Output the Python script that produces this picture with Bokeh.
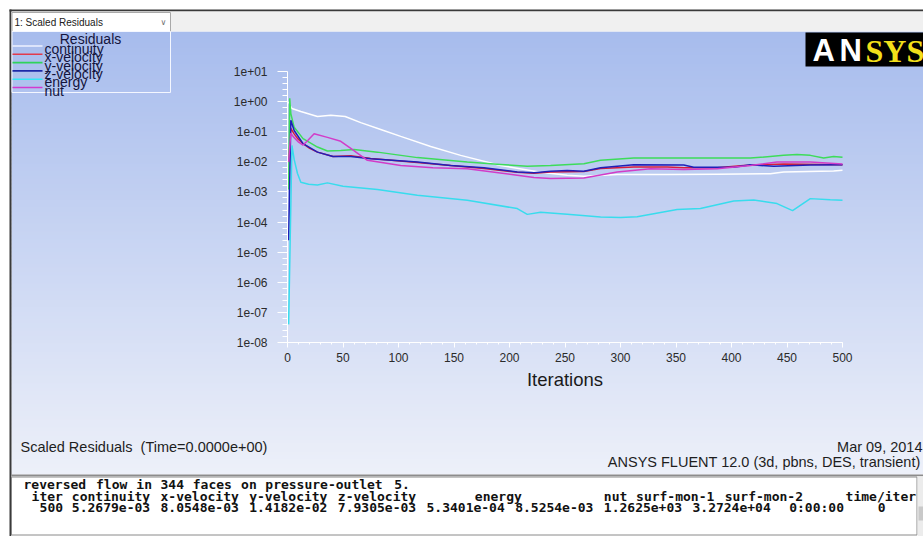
import re
from bokeh.plotting import figure
from bokeh.models import Range1d, FixedTicker, LinearAxis, LogAxis, LogScale
from bokeh.core.properties import value
from bokeh.embed import file_html
from bokeh.resources import INLINE

# ---------------- data ----------------
cont_iter = [1, 3, 4, 12, 27, 39, 52, 66, 84, 102, 129, 156, 192, 228, 252, 267, 297, 342, 387, 435, 447, 492, 500]
cont_res = [1.0, 0.66, 0.59, 0.47, 0.32, 0.35, 0.32, 0.20, 0.119, 0.070, 0.0325, 0.0164, 0.0076, 0.0045,
            0.0036, 0.0033, 0.0038, 0.0038, 0.0039, 0.0040, 0.0046, 0.0050, 0.00527]

xvel_iter = [1, 3, 6, 9, 14, 20, 27, 41, 57, 75, 117, 147, 177, 207, 222, 237, 267, 282, 312, 342, 357, 387, 411, 447, 500]
xvel_res = [1.0e-2, 0.13, 0.085, 0.06, 0.04, 0.028, 0.021, 0.015, 0.016, 0.013, 0.0095, 0.0076, 0.0060, 0.0045,
            0.0042, 0.0046, 0.0048, 0.0060, 0.0068, 0.0068, 0.0064, 0.0064, 0.0076, 0.0085, 0.00805]

yvel_iter = [1, 2, 3, 6, 14, 27, 36, 48, 60, 81, 117, 162, 192, 216, 237, 267, 282, 312, 342, 417, 447, 459, 471, 483, 492, 500]
yvel_res = [1.2e-3, 1.3, 0.4, 0.14, 0.059, 0.031, 0.023, 0.024, 0.0257, 0.021, 0.0138, 0.0098, 0.0082, 0.0071,
            0.0076, 0.0087, 0.0112, 0.0133, 0.0133, 0.0133, 0.0164, 0.0176, 0.0164, 0.0133, 0.0150, 0.01418]

zvel_iter = [1, 3, 6, 14, 27, 41, 57, 75, 117, 147, 177, 207, 222, 237, 252, 267, 282, 312, 357, 366, 402, 417, 438, 471, 500]
zvel_res = [2.5e-5, 0.24, 0.11, 0.040, 0.021, 0.015, 0.015, 0.0126, 0.0098, 0.0076, 0.0064, 0.0046, 0.0043,
            0.0049, 0.0052, 0.0049, 0.0064, 0.0080, 0.0078, 0.0066, 0.0066, 0.0080, 0.0071, 0.0078, 0.00793]

energy_iter = [1, 4, 6, 9, 12, 19, 27, 36, 50, 81, 117, 162, 207, 216, 228, 252, 282, 300, 315, 351, 372, 402,
               420, 441, 455, 471, 489, 500]
energy_res = [4e-8, 0.035, 0.012, 0.0041, 0.0021, 0.0018, 0.0017, 0.0020, 0.00155, 0.0012, 0.00077, 0.00053,
              0.00028, 0.00018, 0.00021, 0.00018, 0.000148, 0.000142, 0.00015, 0.00026, 0.00028, 0.00050,
              0.00054, 0.00041, 0.00024, 0.00060, 0.00055, 0.000534]

nut_iter = [1, 3, 5, 10, 14, 18, 24, 36, 48, 57, 72, 102, 131, 162, 207, 222, 237, 267, 297, 327, 357, 387, 417,
            441, 471, 500]
nut_res = [1.0e-2, 0.09, 0.07, 0.045, 0.036, 0.05, 0.085, 0.065, 0.048, 0.028, 0.0112, 0.0076, 0.0064, 0.0059,
           0.0036, 0.0030, 0.0028, 0.0029, 0.0046, 0.0059, 0.0056, 0.0059, 0.0076, 0.0098, 0.0098, 0.00853]

series_names = ["continuity", "x-velocity", "y-velocity", "z-velocity", "energy", "nut"]

x_ticks = [0, 50, 100, 150, 200, 250, 300, 350, 400, 450, 500]
y_ticks = [1e-08, 1e-07, 1e-06, 1e-05, 1e-04, 1e-03, 1e-02, 1e-01, 1e+00, 1e+01]
y_tick_labels = ["1e-08", "1e-07", "1e-06", "1e-05", "1e-04", "1e-03", "1e-02", "1e-01", "1e+00", "1e+01"]

console_lines = [
    "reversed flow in 344 faces on pressure-outlet 5.",
    " iter continuity x-velocity y-velocity z-velocity       energy          nut surf-mon-1 surf-mon-2     time/iter",
    "  500 5.2679e-03 8.0548e-03 1.4182e-02 7.9305e-03 5.3401e-04 8.5254e-03 1.2625e+03 3.2724e+04  0:00:00    0",
]

# ---------------- layout ----------------
W, H = 923, 536

# data area of the residual plot (pixels)
AX_L, AX_R = 287, 842
AX_T, AX_B = 71, 342
px_it = (AX_R - AX_L) / 500.0
dec_px = (AX_B - AX_T) / 9.0
it_range = Range1d(-AX_L / px_it, (W - AX_L) / px_it)
res_range = Range1d(10 ** (-8 - (H - AX_B) / dec_px), 10 ** (1 + AX_T / dec_px))

p = figure(width=W, height=H, x_range=Range1d(0, W), y_range=Range1d(H, 0),
           x_axis_type=None, y_axis_type=None, output_backend="svg", toolbar_location=None, tools="",
           min_border=0, extra_x_ranges={"it": it_range}, extra_y_ranges={"res": res_range},
           extra_y_scales={"res": LogScale()})
p.border_fill_color = "white"
p.background_fill_color = "white"
p.outline_line_color = None
p.grid.visible = False


def box(l, r, t, b, fill=None, line=None, lw=1):
    p.quad(left=l, right=r, top=t, bottom=b,
           fill_color=fill if fill else "white", fill_alpha=1 if fill else 0,
           line_color=line if line else "black", line_alpha=1 if line else 0, line_width=lw)


def label(x, y, text, size="14px", color="#1e1e1e", font="Liberation Sans", align="left",
          baseline="middle", style="normal"):
    xs = x if isinstance(x, list) else [x]
    ys = y if isinstance(y, list) else [y]
    ts = text if isinstance(text, list) else [text]
    p.text(x=xs, y=ys, text=ts, text_font=value(font),
           text_font_size=size, text_color=color, text_align=align, text_baseline=baseline,
           text_font_style=style)


# background gradient of the graphics window
c0 = (167, 188, 237)
c1 = (237, 240, 249)
g_top, g_bot, step = 31, 474, 4
n = (g_bot - g_top) // step + 1
lefts, rights, tops, bots, cols = [], [], [], [], []
for i in range(n):
    t = i / (n - 1)
    cols.append("#%02x%02x%02x" % tuple(round(a + (b - a) * t) for a, b in zip(c0, c1)))
    y0 = g_top + i * step
    lefts.append(11); rights.append(W + 2)
    tops.append(y0); bots.append(min(y0 + step + 1, g_bot))
p.quad(left=lefts, right=rights, top=tops, bottom=bots, fill_color=cols, line_alpha=0)

# window frame, selector bar
box(9, W + 2, 9, 11, fill="#3a3a3a")
box(9, 11, 9, H + 2, fill="#3a3a3a")
box(11, W + 2, 11, 31, fill="#f0f0f0")
box(11.5, 170, 12, 31, fill="white", line="#a9a9a9")
label(14, 22, "1: Scaled Residuals", size="10px", color="#202020")
label(163, 22, "\u2228", size="8px", color="#707070", font="DejaVu Sans", align="center")

# legend box
box(11.5, 170, 31, 92, line="#f4f7ff")
label(90, 38.5, "Residuals", size="14px", color="#14143c", align="center")
legend_colors = ["#eef2ff", "#e23a4c", "#2fd35a", "#1c2aa8", "#36e6f5", "#d23ad0"]
for i, (nm, col) in enumerate(zip(series_names, legend_colors)):
    ly = 45.5 + 8.3 * i
    p.segment(x0=12, x1=42, y0=ly, y1=ly, line_color=col, line_width=1.6)
    label(44, ly + 3, nm, size="14px", color="#14143c", baseline="alphabetic")

# ANSYS logo
box(805, W + 2, 32, 66, fill="#000000")
label(812, 50, "A", size="31px", color="white", style="bold")
label(839, 50, "N", size="31px", color="white", style="bold")
label(865, 50, "SYS", size="32px", color="#f2df1a", font="Liberation Serif", style="bold")

# footer texts in the graphics window
label(20, 446, "Scaled Residuals \u00a0(Time=0.0000e+00)", size="14.5px")
label(922, 446, "Mar 09, 2014", size="14.5px", align="right")
label(920, 461, "ANSYS FLUENT 12.0 (3d, pbns, DES, transient)", size="14.5px", align="right")

# console pane
box(11, W + 2, 474, 476, fill="#8c8c8c")
box(11, W + 2, 476, H + 2, fill="white")
box(11, 916.5, 476.5, 534.5, line="#8a8a8a")
box(917, W + 2, 476, H + 2, fill="#ececec")
box(918, W + 2, 506, 520, fill="#c9c9c9")
char_w = 8.06
tx, ty, tt = [], [], []
for j, line in enumerate(console_lines):
    for m in re.finditer(r"\S+", line):
        tx.append(23 + m.start() * char_w)
        ty.append(484 + 11.6 * j)
        tt.append(m.group())
label(tx, ty, tt, size="13px", color="#111111", font="DejaVu Sans Mono", style="bold")

# ---------------- residual curves ----------------
curve_colors = ["#ffffff", "#d81b3c", "#3ddc5a", "#2020b8", "#38dced", "#d23cc8"]
curves = [(cont_iter, cont_res), (xvel_iter, xvel_res), (yvel_iter, yvel_res),
          (zvel_iter, zvel_res), (energy_iter, energy_res), (nut_iter, nut_res)]
for (xs, ys), col in zip(curves, curve_colors):
    p.line(xs, ys, line_color=col, line_width=1.5, x_range_name="it", y_range_name="res")

# ---------------- axes (drawn at the data origin) ----------------
xa = LinearAxis(x_range_name="it", y_range_name="res", fixed_location=1e-8, bounds=(0, 500),
                ticker=FixedTicker(ticks=x_ticks, minor_ticks=list(range(0, 501, 10))))
xa.axis_line_color = "white"
xa.major_tick_line_color = "white"
xa.minor_tick_line_color = "white"
xa.major_tick_out = 5
xa.major_tick_in = 0
xa.minor_tick_out = 2
xa.minor_tick_in = 0
xa.major_label_text_font = "Liberation Sans"
xa.major_label_text_font_size = "12px"
xa.major_label_text_color = "#2b2b2b"
xa.major_label_standoff = 5
xa.axis_label = "Iterations"
xa.axis_label_text_font = "Liberation Sans"
xa.axis_label_text_font_size = "18.5px"
xa.axis_label_text_font_style = "normal"
xa.axis_label_text_color = "#1a1a1a"
xa.axis_label_standoff = 4
p.add_layout(xa, "below")

y_minor = [d * m for d in y_ticks[:-1] for m in (1.585, 2.512, 3.981, 6.31)]
ya = LogAxis(x_range_name="it", y_range_name="res", fixed_location=0, bounds=(1e-8, 10),
             ticker=FixedTicker(ticks=y_ticks, minor_ticks=y_minor))
ya.major_label_overrides = {v: s for v, s in zip(y_ticks, y_tick_labels)}
ya.axis_line_color = "white"
ya.major_tick_line_color = "white"
ya.minor_tick_line_color = "white"
ya.major_tick_out = 10
ya.major_tick_in = 0
ya.minor_tick_out = 5
ya.minor_tick_in = 0
ya.major_label_text_font = "Liberation Sans"
ya.major_label_text_font_size = "12px"
ya.major_label_text_color = "#2b2b2b"
ya.major_label_standoff = 10
p.add_layout(ya, "left")

open("out.html", "w").write(file_html(p, INLINE))
